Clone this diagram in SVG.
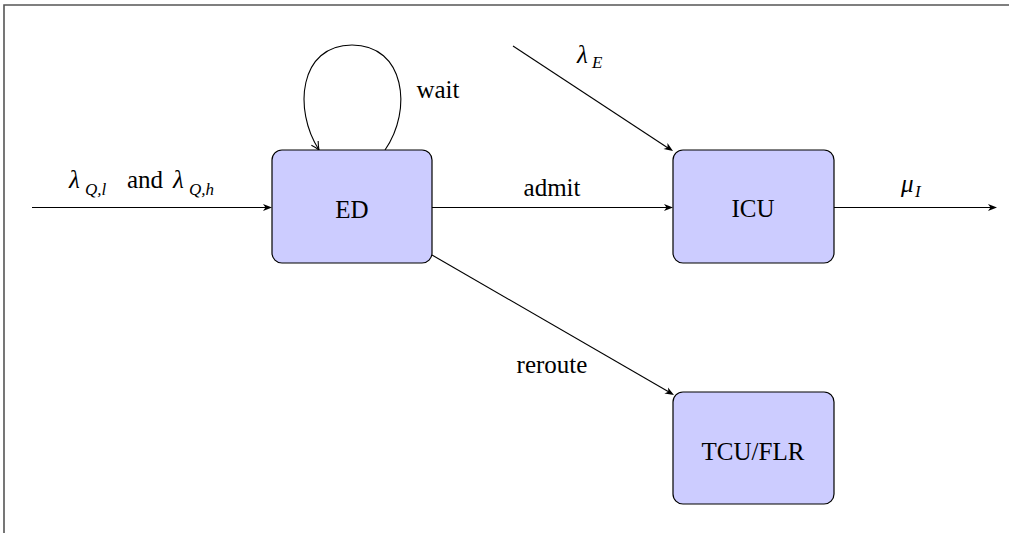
<svg xmlns="http://www.w3.org/2000/svg" width="1009" height="533" viewBox="0 0 1009 533">
<style>
.node rect{fill:#ccccff;stroke:#000;stroke-width:1.2}
.edge{fill:none;stroke:#000;stroke-width:1.1}
.head{fill:#000;stroke:none}
</style>
<rect width="1009" height="533" fill="#fff"/>
<path d="M4,533 L4,5 L1009,5" fill="none" stroke="#555" stroke-width="1.6"/>
<g id="connectors">
<line class="edge" x1="32" y1="207.5" x2="266" y2="207.5"/>
<path class="head" d="M0,0 L-9,-3.6 L-6.5,0 L-9,3.6 Z" transform="translate(272,207.5)"/>
<line class="edge" x1="432" y1="207.5" x2="667" y2="207.5"/>
<path class="head" d="M0,0 L-9,-3.6 L-6.5,0 L-9,3.6 Z" transform="translate(673,207.5)"/>
<line class="edge" x1="834" y1="207.5" x2="991" y2="207.5"/>
<path class="head" d="M0,0 L-9,-3.6 L-6.5,0 L-9,3.6 Z" transform="translate(997,207.5)"/>
<line class="edge" x1="513" y1="46" x2="668" y2="148"/>
<path class="head" d="M0,0 L-9,-3.6 L-6.5,0 L-9,3.6 Z" transform="translate(673,151) rotate(33.3)"/>
<line class="edge" x1="432" y1="255" x2="669" y2="392"/>
<path class="head" d="M0,0 L-9,-3.6 L-6.5,0 L-9,3.6 Z" transform="translate(674,395) rotate(30)"/>
<path class="edge" d="M385,150 C413,110 405,45 352,45 C299,45 293,110 319,150"/>
<path class="edge" d="M-8,-4 Q-3,-1 0,0 Q-3,1 -8,4" transform="translate(319,150) rotate(58)"/>
</g>
<g id="edge-labels" font-family="'Liberation Serif'" fill="#000">
<text x="69" y="188" font-size="25" font-style="italic">λ</text>
<text x="85" y="195" font-size="17" font-style="italic">Q,l</text>
<text x="127" y="188" font-size="25">and</text>
<text x="173" y="188" font-size="25" font-style="italic">λ</text>
<text x="189" y="195" font-size="17" font-style="italic">Q,h</text>
<text x="552" y="196" font-size="25" text-anchor="middle">admit</text>
<text x="438" y="98" font-size="25" text-anchor="middle">wait</text>
<text x="552" y="373" font-size="25" text-anchor="middle">reroute</text>
<text x="577" y="63" font-size="25" font-style="italic">λ</text>
<text x="592" y="68" font-size="17" font-style="italic">E</text>
<text x="901" y="192" font-size="25" font-style="italic">μ</text>
<text x="915" y="197" font-size="17" font-style="italic">I</text>
</g>
<g id="node-ED" class="node">
<rect x="272" y="150" width="160" height="113" rx="10"/>
<text x="352" y="218" font-family="'Liberation Serif'" font-size="25" text-anchor="middle">ED</text>
</g>
<g id="node-ICU" class="node">
<rect x="673" y="150" width="161" height="113" rx="10"/>
<text x="753" y="217" font-family="'Liberation Serif'" font-size="25" text-anchor="middle">ICU</text>
</g>
<g id="node-TCU" class="node">
<rect x="673" y="392" width="161" height="112" rx="10"/>
<text x="753" y="460" font-family="'Liberation Serif'" font-size="25" text-anchor="middle">TCU/FLR</text>
</g>
</svg>
